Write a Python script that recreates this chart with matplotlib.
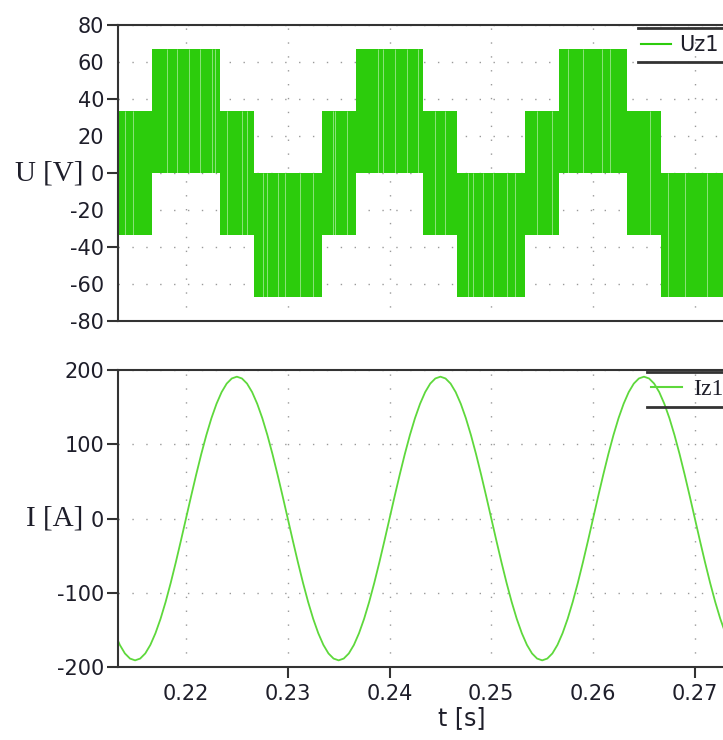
import numpy as np
import matplotlib
matplotlib.use('Agg')
import matplotlib.pyplot as plt
from matplotlib.lines import Line2D

plt.rcParams['axes.unicode_minus'] = False

# --- Uz1: PWM voltage, read as envelope per switching segment ---
seg_edges = [0.2130, 0.21667, 0.22333, 0.22667, 0.23333, 0.23667, 0.24333,
             0.24667, 0.25333, 0.25667, 0.26333, 0.26667, 0.2760]
seg_low = [-33.5, 0, -33.5, -67, -33.5, 0, -33.5, -67, -33.5, 0, -33.5, -67]
seg_high = [33.5, 67, 33.5, 0, 33.5, 67, 33.5, 0, 33.5, 67, 33.5, 0]
# thin white gaps visible inside the green blocks
gap_t = [0.21401, 0.21479, 0.21813, 0.21912, 0.22029, 0.22138, 0.22255, 0.22285,
         0.22403, 0.22550, 0.22599, 0.22756, 0.22796, 0.22904, 0.22973, 0.23120,
         0.23248, 0.23444, 0.23464, 0.23582, 0.23886, 0.23935, 0.24053, 0.24171,
         0.24279, 0.24446, 0.24544, 0.24770, 0.24819, 0.24917, 0.25016, 0.25153,
         0.25232, 0.25448, 0.25595, 0.25752, 0.25900, 0.26086, 0.26165, 0.26558,
         0.26735, 0.26902, 0.27118]

# --- Iz1: phase current, sampled every 0.5 ms from 0.213 s ---
i_t0, i_dt = 0.2130, 0.0005
i_val = [-154.5, -170.2, -181.7, -188.6, -191.0, -188.6, -181.7, -170.2, -154.5,
         -135.1, -112.3, -86.7, -59.0, -29.9,
         0.0, 29.9, 59.0, 86.7, 112.3, 135.1, 154.5, 170.2, 181.7, 188.6,
         191.0, 188.6, 181.7, 170.2, 154.5, 135.1, 112.3, 86.7, 59.0, 29.9,
         0.0, -29.9, -59.0, -86.7, -112.3, -135.1, -154.5, -170.2, -181.7, -188.6,
         -191.0, -188.6, -181.7, -170.2, -154.5, -135.1, -112.3, -86.7, -59.0, -29.9,
         0.0, 29.9, 59.0, 86.7, 112.3, 135.1, 154.5, 170.2, 181.7, 188.6,
         191.0, 188.6, 181.7, 170.2, 154.5, 135.1, 112.3, 86.7, 59.0, 29.9,
         0.0, -29.9, -59.0, -86.7, -112.3, -135.1, -154.5, -170.2, -181.7, -188.6,
         -191.0, -188.6, -181.7, -170.2, -154.5, -135.1, -112.3, -86.7, -59.0, -29.9,
         0.0, 29.9, 59.0, 86.7, 112.3, 135.1, 154.5, 170.2, 181.7, 188.6,
         191.0, 188.6, 181.7, 170.2, 154.5, 135.1, 112.3, 86.7, 59.0, 29.9,
         0.0, -29.9, -59.0, -86.7, -112.3, -135.1, -154.5, -170.2, -181.7, -188.6,
         -191.0]
i_t = i_t0 + i_dt * np.arange(len(i_val))

t_ticks = [0.22, 0.23, 0.24, 0.25, 0.26, 0.27]
t_marks = [0.23, 0.24, 0.27]
u_ticks = [-80, -60, -40, -20, 0, 20, 40, 60, 80]
u_marks = [-80, -40, 0, 40, 80]
i_ticks = [-200, -100, 0, 100, 200]

green_u = '#2ccc0c'
green_i = '#5ed83c'
dark = '#333333'
txt = '#1e1e2a'

fig = plt.figure(figsize=(7.23, 7.40), dpi=100)
ax1 = fig.add_axes([0.1632, 0.5662, 0.867, 0.4])
ax2 = fig.add_axes([0.1632, 0.0986, 0.867, 0.4014])

# top: voltage
lo = seg_low + [seg_low[-1]]
hi = seg_high + [seg_high[-1]]
ax1.fill_between(seg_edges, lo, hi, step='post', color=green_u, lw=0, zorder=2)
idx = np.searchsorted(seg_edges, gap_t) - 1
ax1.vlines(gap_t, np.array(seg_low)[idx], np.array(seg_high)[idx],
           colors='white', lw=0.7, alpha=0.45, zorder=3)
ax1.set_ylim(-80, 80)
ax1.set_yticks(u_ticks)
ax1.set_yticks(u_marks, minor=True)
ax1.yaxis.remove_overlapping_locs = False
ax1.tick_params(axis='y', which='major', length=0, pad=10, labelsize=15, labelcolor=txt)
ax1.tick_params(axis='y', which='minor', length=8, width=1.5, color=dark)
ax1.set_xticks(t_ticks)
ax1.tick_params(axis='x', which='both', length=0, labelbottom=False)
ax1.set_ylabel('U [V]', rotation=0, fontfamily='Liberation Serif', fontsize=21,
               ha='right', va='center', color=txt)
ax1.yaxis.set_label_coords(-0.056, 0.5)
h1 = Line2D([], [], color=green_u, lw=1.5)
ax1.legend([h1], ['Uz1'], loc='center left', bbox_to_anchor=(0.805, 0.932),
           frameon=False, fontsize=15, handlelength=1.44, handletextpad=0.38,
           labelcolor=txt)
ax1.plot([0.829, 1.0], [0.99, 0.99], transform=ax1.transAxes, color=dark, lw=2, clip_on=False)
ax1.plot([0.829, 1.0], [0.875, 0.875], transform=ax1.transAxes, color=dark, lw=2, clip_on=False)

# bottom: current
ax2.plot(i_t, i_val, color=green_i, lw=1.3, zorder=2)
ax2.set_ylim(-200, 200)
ax2.set_yticks(i_ticks)
ax2.tick_params(axis='y', which='major', length=8, width=1.5, color=dark, pad=2,
                labelsize=15, labelcolor=txt)
ax2.set_xticks(t_ticks)
ax2.set_xticks(t_marks, minor=True)
ax2.xaxis.remove_overlapping_locs = False
ax2.tick_params(axis='x', which='major', length=0, pad=12, labelsize=15, labelcolor=txt)
ax2.tick_params(axis='x', which='minor', length=8, width=1.5, color=dark)
ax2.set_ylabel('I [A]', rotation=0, fontfamily='Liberation Serif', fontsize=21,
               ha='right', va='center', color=txt)
ax2.yaxis.set_label_coords(-0.056, 0.5)
ax2.set_xlabel('t [s]', fontsize=17, color=txt)
ax2.xaxis.set_label_coords(0.5486, -0.132)
h2 = Line2D([], [], color=green_i, lw=1.5)
ax2.legend([h2], ['Iz1'], loc='center left', bbox_to_anchor=(0.817, 0.934),
           frameon=False, prop={'family': 'Liberation Serif', 'size': 17},
           handlelength=1.3, handletextpad=0.45, labelcolor=txt)
ax2.plot([0.844, 1.0], [0.993, 0.993], transform=ax2.transAxes, color=dark, lw=2, clip_on=False)
ax2.plot([0.844, 1.0], [0.875, 0.875], transform=ax2.transAxes, color=dark, lw=2, clip_on=False)

for ax in (ax1, ax2):
    ax.set_xlim(0.21332, 0.27491)
    ax.grid(True, which='major', color='#9a9a9a', lw=1, linestyle=(0, (1, 9)))
    for s in ax.spines.values():
        s.set_color(dark)
        s.set_linewidth(1.5)
    ax.set_axisbelow(True)

fig.savefig('out.png', dpi=100)
